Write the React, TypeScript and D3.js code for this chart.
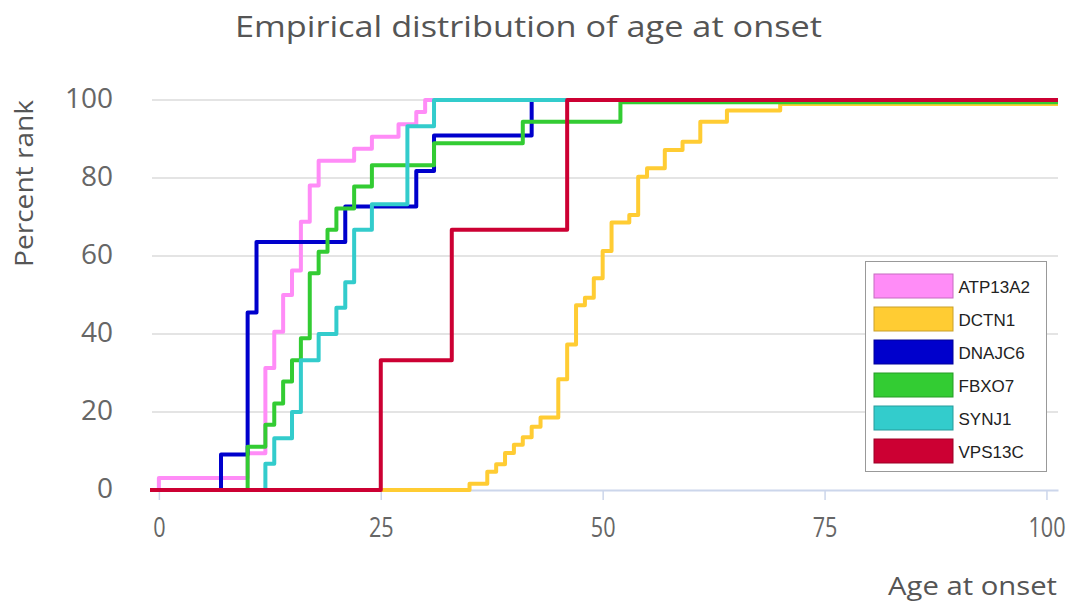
import { useRef, useEffect } from "react";
import * as d3 from "d3";

// series names and colours, in drawing order (last one on top)
const genes = ["ATP13A2", "DCTN1", "DNAJC6", "FBXO7", "SYNJ1", "VPS13C"];
const geneColors = ["#ff8cf7", "#ffcc33", "#0000cc", "#33cc33", "#33cccc", "#cc0033"];
const geneBorders = ["#c66bc0", "#c9a02a", "#00009a", "#279b27", "#279b9b", "#9b0027"];

// [age at onset, percent rank] where each step starts
const atp13a2: [number, number][] = [
  [0, 3.1], [10, 9.4], [12, 31.3], [13, 40.6], [14, 50], [15, 56.3], [16, 68.8],
  [17, 78.1], [18, 84.4], [22, 87.5], [24, 90.6], [27, 93.8], [29, 96.9], [30, 100],
];
const dctn1: [number, number][] = [
  [35, 1.6], [37, 4.7], [38, 6.6], [39, 9.5], [40, 11.6], [41, 13.5], [42, 16.2],
  [43, 18.6], [45, 28.4], [46, 37.3], [47, 47.4], [48, 49.3], [49, 54.3], [50, 61.3],
  [51, 68.6], [53, 70.5], [54, 80.3], [55, 82.5], [57, 87.2], [59, 89.3], [61, 94.4],
  [64, 97.3], [70, 99.0],
];
const dnajc6: [number, number][] = [
  [7, 9.1], [10, 45.5], [11, 63.6], [21, 72.7], [29, 81.8], [31, 90.9], [42, 100],
];
const fbxo7: [number, number][] = [
  [10, 11.1], [12, 16.7], [13, 22.2], [14, 27.8], [15, 33.3], [16, 38.9], [17, 55.6],
  [18, 61.1], [19, 66.7], [20, 72.2], [22, 77.8], [24, 83.3], [31, 88.9], [41, 94.4],
  [52, 99.4],
];
const synj1: [number, number][] = [
  [12, 6.7], [13, 13.3], [15, 20], [16, 33.3], [18, 40], [20, 46.7], [21, 53.3],
  [22, 66.7], [24, 73.3], [28, 93.3], [31, 100],
];
const vps13c: [number, number][] = [[25, 33.3], [33, 66.7], [46, 100]];

const seriesData = [atp13a2, dctn1, dnajc6, fbxo7, synj1, vps13c];

const xTicks = [0, 25, 50, 75, 100];
const yTicks = [0, 20, 40, 60, 80, 100];

const AgeOnsetChart = () => {
  const svgRef = useRef<SVGSVGElement | null>(null);

  useEffect(() => {
    if (svgRef.current === null) {
      return;
    }
    const svg = d3.select(svgRef.current);
    svg.selectAll("*").remove();

    const left = 150;
    const right = 1058;
    const top = 100;
    const bottom = 490;

    const x = d3.scaleLinear().domain([-1, 101.3]).range([left, right]);
    const y = d3.scaleLinear().domain([0, 100]).range([bottom, top]);
    const [xMin, xMax] = x.domain();

    // title
    svg
      .append("text")
      .attr("x", 528.5)
      .attr("y", 37)
      .attr("text-anchor", "middle")
      .attr("font-family", "Open Sans")
      .attr("font-size", 30)
      .attr("fill", "#555")
      .attr("textLength", 587)
      .attr("lengthAdjust", "spacingAndGlyphs")
      .text("Empirical distribution of age at onset");

    // horizontal grid lines
    svg
      .append("g")
      .selectAll("line")
      .data(yTicks.filter((t) => t > 0))
      .join("line")
      .attr("x1", left + 2)
      .attr("x2", right)
      .attr("y1", (d) => y(d))
      .attr("y2", (d) => y(d))
      .attr("stroke", "#e4e4e4")
      .attr("stroke-width", 2);

    // x axis
    const xAxis = svg
      .append("g")
      .attr("transform", `translate(0,${bottom})`)
      .call(d3.axisBottom(x).tickValues(xTicks).tickSize(10).tickSizeOuter(0));
    xAxis.select(".domain").attr("stroke", "#ccd6eb").attr("stroke-width", 2);
    xAxis.selectAll(".tick line").attr("stroke", "#ccd6eb").attr("stroke-width", 1.5);
    xAxis
      .selectAll(".tick text")
      .attr("y", 47)
      .attr("dy", null)
      .attr("transform", "scale(0.8,1)")
      .attr("font-family", "Open Sans")
      .attr("font-size", 27)
      .attr("fill", "#666");

    // y axis labels
    const yAxis = svg
      .append("g")
      .attr("transform", "translate(113,0)")
      .call(d3.axisLeft(y).tickValues(yTicks).tickSize(0));
    yAxis.select(".domain").remove();
    yAxis
      .selectAll(".tick text")
      .attr("x", 0)
      .attr("y", 7)
      .attr("dy", null)
      .attr("font-family", "Open Sans")
      .attr("font-size", 28)
      .attr("fill", "#666");

    // axis titles
    svg
      .append("text")
      .attr("transform", "translate(33,183.5) rotate(-90)")
      .attr("text-anchor", "middle")
      .attr("font-family", "Open Sans")
      .attr("font-size", 25)
      .attr("fill", "#555")
      .attr("textLength", 167)
      .attr("lengthAdjust", "spacingAndGlyphs")
      .text("Percent rank");

    svg
      .append("text")
      .attr("x", 888)
      .attr("y", 595)
      .attr("font-family", "Open Sans")
      .attr("font-size", 25)
      .attr("fill", "#555")
      .attr("textLength", 169)
      .attr("lengthAdjust", "spacingAndGlyphs")
      .text("Age at onset");

    // step lines
    const line = d3
      .line<[number, number]>()
      .x((d) => x(d[0]))
      .y((d) => y(d[1]))
      .curve(d3.curveStepAfter);

    svg
      .append("g")
      .selectAll("path")
      .data(seriesData)
      .join("path")
      .attr("d", (d) =>
        line([[xMin, 0], ...d, [xMax, d[d.length - 1][1]]] as [number, number][])
      )
      .attr("fill", "none")
      .attr("stroke", (_, i) => geneColors[i])
      .attr("stroke-width", 4)
      .attr("stroke-linejoin", "round");

    // legend
    const legend = svg.append("g").attr("transform", "translate(865.5,261.5)");
    legend
      .append("rect")
      .attr("width", 181)
      .attr("height", 210)
      .attr("fill", "#fff")
      .attr("stroke", "#999")
      .attr("stroke-width", 1);

    const items = legend
      .selectAll("g")
      .data(genes)
      .join("g")
      .attr("transform", (_, i) => `translate(0,${12.5 + i * 33})`);

    items
      .append("rect")
      .attr("x", 8.5)
      .attr("width", 79)
      .attr("height", 24)
      .attr("fill", (_, i) => geneColors[i])
      .attr("stroke", (_, i) => geneBorders[i])
      .attr("stroke-width", 1);

    items
      .append("text")
      .attr("x", 93)
      .attr("y", 19)
      .attr("font-family", "Liberation Sans, Arial, sans-serif")
      .attr("font-size", 17)
      .attr("fill", "#222")
      .text((d) => d);
  }, []);

  return (
    <svg
      ref={svgRef}
      width={1071}
      height={608}
      style={{ position: "absolute", left: 0, top: 0, background: "#fff" }}
    />
  );
};

export default function App() {
  return <AgeOnsetChart />;
}
